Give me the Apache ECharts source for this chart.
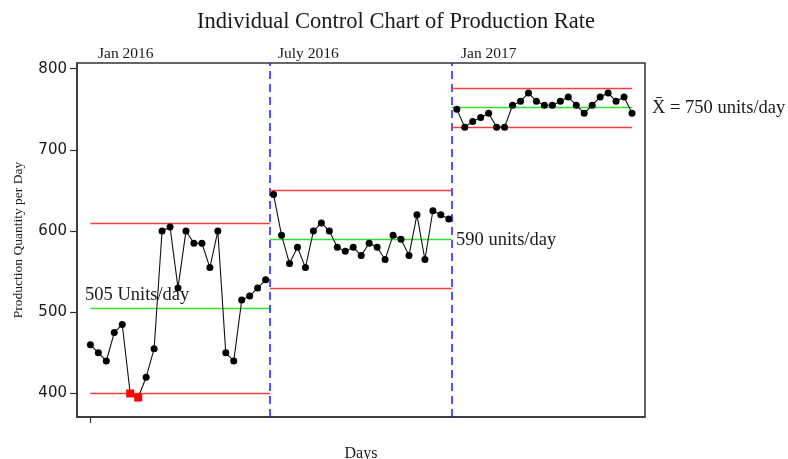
<!DOCTYPE html>
<html><head><meta charset="utf-8">
<script src="https://cdn.jsdelivr.net/npm/echarts@6/dist/echarts.min.js"></script>
<style>html,body{margin:0;padding:0;background:#fff}#c{width:788px;height:459px}</style>
</head><body><div id="c"></div><script>
// ---- data ----
const seg1 = [460,450,440,475,485,400,395,420,455,600,605,530,600,585,585,555,600,450,440,515,520,530,540];
const seg2 = [645,595,560,580,555,600,610,600,580,575,580,570,585,580,565,595,590,570,620,565,625,620,615];
const seg3 = [750,728,735,740,745,728,728,755,760,770,760,755,755,760,765,755,745,755,765,770,760,765,745];
const segments = [seg1, seg2, seg3];
const centerLines = [505, 590, 752];
const upperLimits = [610, 650, 776];
const lowerLimits = [400, 530, 728];
const segStart = [0, 22.55, 45.4];
const segEnd = [22.55, 45.4, 68];
const phaseDividers = [22.55, 45.4];
const phaseLabels = ['Jan 2016', 'July 2016', 'Jan 2017'];
const centerLabels = ['505 Units/day', '590 units/day', 'X\u0304 = 750 units/day'];
const outOfControl = [[5, 6], [], []];
const yTicks = [400, 500, 600, 700, 800];

const SERIF = "'Liberation Serif','DejaVu Serif',serif";
const RED = '#ff3c3c', GREEN = '#30e030', BLUE = '#1a1aff';

const chart = echarts.init(document.getElementById('c'), null, {renderer: 'canvas'});

const series = segments.map((seg, k) => {
  let offset = 0;
  for (let j = 0; j < k; j++) offset += segments[j].length;
  const data = seg.map((v, i) => {
    const item = {value: [offset + i, v]};
    if (outOfControl[k].includes(i)) {
      item.symbol = 'rect';
      item.symbolSize = 8;
      item.itemStyle = {color: '#ff0000'};
    }
    return item;
  });
  const hl = (y, color) => [{coord: [segStart[k], y], lineStyle: {color: color, width: 1.3, type: 'solid'}}, {coord: [segEnd[k], y]}];
  const mlData = [hl(upperLimits[k], RED), hl(centerLines[k], GREEN), hl(lowerLimits[k], RED)];
  if (k === 0) {
    phaseDividers.forEach(x => mlData.push({xAxis: x, lineStyle: {color: BLUE, width: 1.5, type: [8, 5]}}));
  }
  return {
    type: 'line',
    data: data,
    symbol: 'circle',
    symbolSize: 7,
    itemStyle: {color: '#000'},
    lineStyle: {color: '#111', width: 1.1},
    z: 5,
    animation: false,
    markLine: {
      silent: true,
      symbol: ['none', 'none'],
      label: {show: false},
      animation: false,
      z: 2,
      data: mlData
    }
  };
});

const txt = (x, y, text, size, align) => ({type: 'text', x: x, y: y, z: 10,
  style: {text: text, font: size + 'px ' + SERIF, fill: '#1a1a1a', align: align || 'left', verticalAlign: 'middle'}});

const graphic = [
  txt(396, 22, 'Individual Control Chart of Production Rate', 22.5, 'center'),
  txt(98, 54, phaseLabels[0], 15.5),
  txt(278, 54, phaseLabels[1], 15.5),
  txt(461, 54, phaseLabels[2], 15.5),
  txt(85, 295, centerLabels[0], 18.5),
  txt(456, 240, centerLabels[1], 18.5),
  txt(652, 108, centerLabels[2], 18.5)
];

chart.setOption({
  animation: false,
  backgroundColor: '#fff',
  grid: {left: 77, right: 143, top: 63, bottom: 42, outerBoundsMode: 'none', containLabel: false,
         show: true, borderColor: '#333', borderWidth: 1.5, backgroundColor: 'transparent'},
  xAxis: {
    type: 'value', min: -1.68, max: 69.63,
    splitLine: {show: false},
    axisLine: {show: true, onZero: false, lineStyle: {color: '#333', width: 1.5}},
    axisTick: {show: true, customValues: [0], length: 6, lineStyle: {color: '#333', width: 1.2}},
    axisLabel: {show: false},
    name: 'Days', nameLocation: 'middle', nameGap: 29,
    nameTextStyle: {fontFamily: SERIF, fontSize: 16, color: '#1a1a1a', verticalAlign: 'top'}
  },
  yAxis: {
    type: 'value', min: 371, max: 807,
    splitLine: {show: false},
    axisLine: {show: true, onZero: false, lineStyle: {color: '#333', width: 1.5}},
    axisTick: {show: true, customValues: yTicks, length: 7, lineStyle: {color: '#333', width: 1.2}},
    axisLabel: {show: true, customValues: yTicks, margin: 10, fontFamily: "'DejaVu Sans',sans-serif", fontSize: 15, color: '#1a1a1a'},
    name: 'Production Quantity per Day', nameLocation: 'middle', nameGap: 52,
    nameTextStyle: {fontFamily: SERIF, fontSize: 13.5, color: '#1a1a1a'}
  },
  series: series,
  graphic: graphic
});
</script></body></html>
